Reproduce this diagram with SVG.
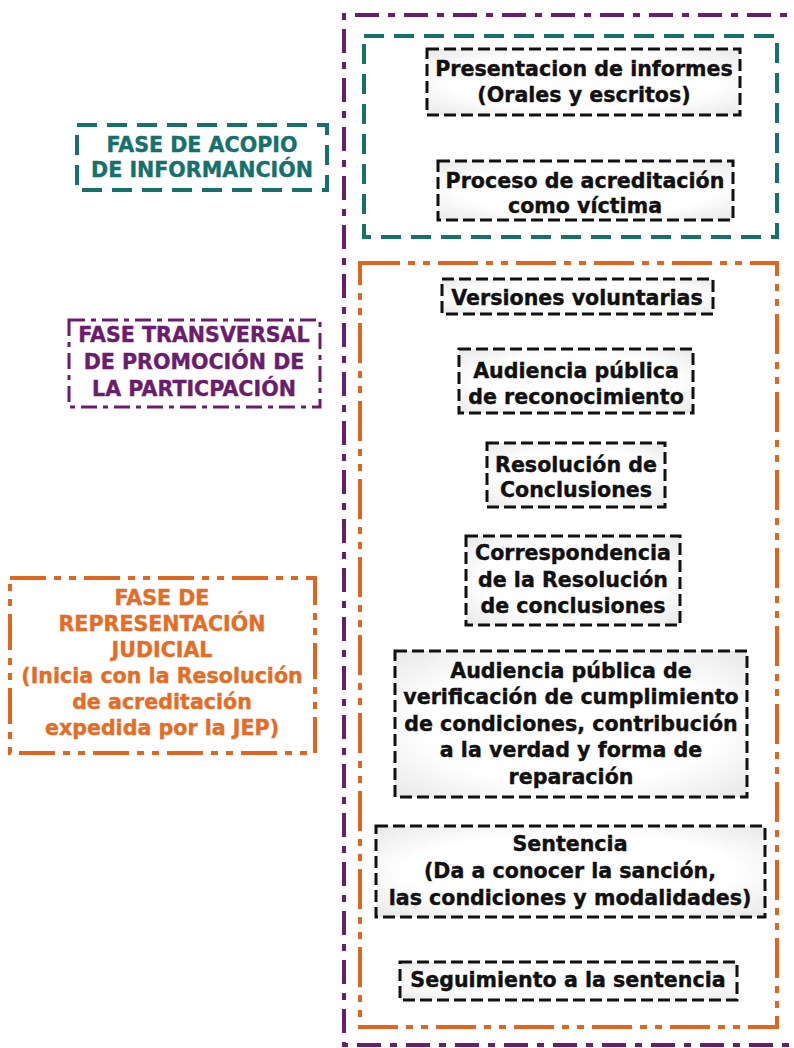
<svg xmlns="http://www.w3.org/2000/svg" width="794" height="1048" viewBox="0 0 794 1048">
<defs>
<radialGradient id="g" cx="50%" cy="50%" r="70%">
<stop offset="0.6" stop-color="#ffffff"/>
<stop offset="1" stop-color="#e8e8e8"/>
</radialGradient>
<style>
text{font-family:"DejaVu Sans","Liberation Sans",sans-serif;font-weight:bold;font-size:20.6px;text-anchor:middle;stroke-width:0.4px}
.blk rect{fill:url(#g);stroke:#111;stroke-width:3;stroke-dasharray:12 5}
.blk text{fill:#111;stroke:#111}
.pur{fill:none;stroke:#6a1d6c;stroke-width:4;stroke-dasharray:24 9 7 9}
.teal{fill:none;stroke:#16706c;stroke-width:4;stroke-dasharray:20 10}
.ora{fill:none;stroke:#e0661f;stroke-width:4;stroke-dasharray:40 8 7 8 7 8}
.tl{fill:#16706c;stroke:#16706c}
.pl{fill:#6a1d6c;stroke:#6a1d6c}
.ol{fill:#e46d26;stroke:#e46d26}
</style>
</defs>
<rect width="794" height="1048" fill="#ffffff"/>
<g id="fase-transversal-contenedor">
<path class="pur" d="M 820 15 L 344 15 L 344 1045 L 820 1045"/>
</g>
<g id="fase-acopio-contenedor">
<rect class="teal" x="364" y="36" width="413" height="201"/>
</g>
<g id="fase-representacion-contenedor">
<rect class="ora" x="360" y="263" width="417" height="764"/>
</g>
<g id="label-acopio">
<rect class="teal" x="77" y="125" width="250" height="65"/>
<text class="tl" x="202" y="152">FASE DE ACOPIO</text>
<text class="tl" x="202" y="177">DE INFORMANCIÓN</text>
</g>
<g id="label-transversal">
<rect class="pur" x="69" y="320" width="251" height="87" style="stroke-width:3;stroke-dasharray:16 6 5 6"/>
<text class="pl" x="194" y="342">FASE TRANSVERSAL</text>
<text class="pl" x="194" y="369">DE PROMOCIÓN DE</text>
<text class="pl" x="194" y="396">LA PARTICPACIÓN</text>
</g>
<g id="label-representacion">
<rect class="ora" x="10" y="578" width="305" height="175" style="stroke-dasharray:36 8 7 8 7 8"/>
<text class="ol" x="162" y="605">FASE DE</text>
<text class="ol" x="162" y="631">REPRESENTACIÓN</text>
<text class="ol" x="162" y="657">JUDICIAL</text>
<text class="ol" x="162" y="683">(Inicia con la Resolución</text>
<text class="ol" x="162" y="709">de acreditación</text>
<text class="ol" x="162" y="735">expedida por la JEP)</text>
</g>
<g id="presentacion" class="blk">
<rect x="427" y="49" width="313" height="66"/>
<text x="584" y="76">Presentacion de informes</text>
<text x="584" y="102">(Orales y escritos)</text>
</g>
<g id="proceso" class="blk">
<rect x="438" y="161" width="295" height="59"/>
<text x="585" y="188">Proceso de acreditación</text>
<text x="585" y="213">como víctima</text>
</g>
<g id="versiones" class="blk">
<rect x="442" y="279" width="271" height="35"/>
<text x="577" y="305">Versiones voluntarias</text>
</g>
<g id="audiencia-reconocimiento" class="blk">
<rect x="459" y="349" width="234" height="64"/>
<text x="576" y="378">Audiencia pública</text>
<text x="576" y="404">de reconocimiento</text>
</g>
<g id="resolucion" class="blk">
<rect x="487" y="443" width="178" height="64"/>
<text x="576" y="472">Resolución de</text>
<text x="576" y="497">Conclusiones</text>
</g>
<g id="correspondencia" class="blk">
<rect x="466" y="536" width="214" height="89"/>
<text x="573" y="560">Correspondencia</text>
<text x="573" y="587">de la Resolución</text>
<text x="573" y="613">de conclusiones</text>
</g>
<g id="audiencia-verificacion" class="blk">
<rect x="395" y="651" width="352" height="146"/>
<text x="571" y="678">Audiencia pública de</text>
<text x="571" y="704">verificación de cumplimiento</text>
<text x="571" y="731">de condiciones, contribución</text>
<text x="571" y="757">a la verdad y forma de</text>
<text x="571" y="784">reparación</text>
</g>
<g id="sentencia" class="blk">
<rect x="376" y="826" width="389" height="91"/>
<text x="570" y="851">Sentencia</text>
<text x="570" y="878">(Da a conocer la sanción,</text>
<text x="570" y="905">las condiciones y modalidades)</text>
</g>
<g id="seguimiento" class="blk">
<rect x="400" y="962" width="337" height="38"/>
<text x="568" y="987">Seguimiento a la sentencia</text>
</g>
<g id="connectors"></g>
</svg>
